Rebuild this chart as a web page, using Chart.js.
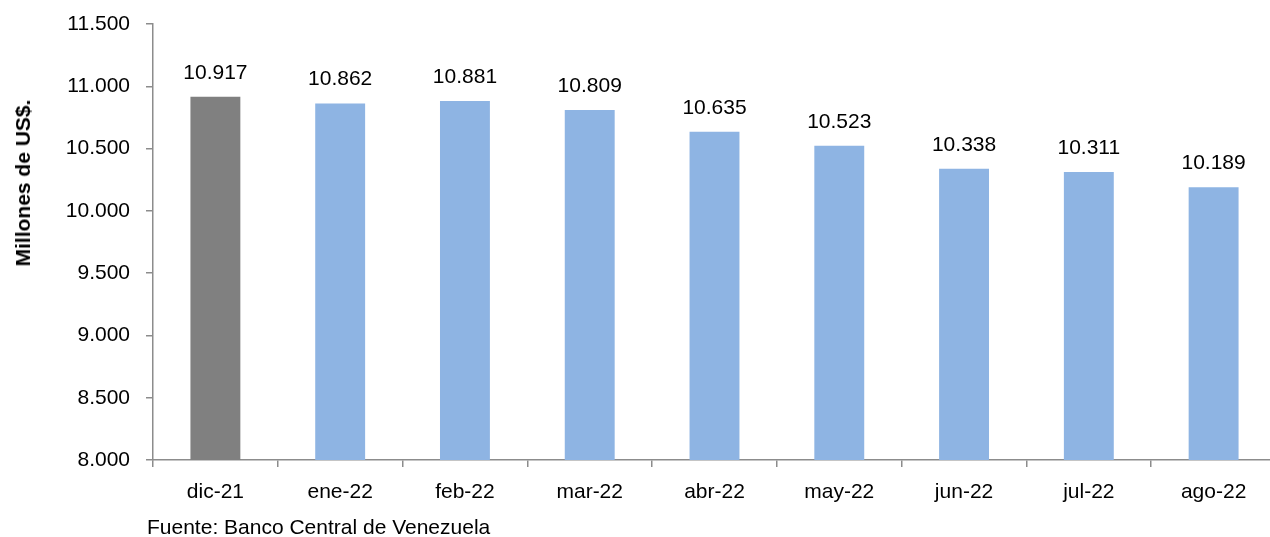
<!DOCTYPE html>
<html>
<head>
<meta charset="utf-8">
<script src="https://cdn.jsdelivr.net/npm/chart.js@4.4.1/dist/chart.umd.min.js"></script>
<style>
  html, body { margin: 0; padding: 0; background: #fff; overflow: hidden; }
  #wrap { position: relative; width: 1270px; height: 537px; overflow: hidden; }
  #grafico { position: absolute; left: 0; top: 0; }
  .ylab {
    position: absolute; left: 23px; top: 183px;
    transform: translate(-50%, -50%) rotate(-90deg);
    font: bold 21px 'Liberation Sans', Arial, sans-serif;
    white-space: nowrap; color: #000;
  }
  .fuente {
    position: absolute; left: 147px; top: 516px;
    font: 21px 'Liberation Sans', Arial, sans-serif;
    line-height: 21px; white-space: nowrap; color: #000;
  }
</style>
</head>
<body>
<div id="wrap">
  <canvas id="grafico" width="1290" height="537"></canvas>
  <div class="ylab">Millones de US$.</div>
  <div class="fuente">Fuente: Banco Central de Venezuela</div>
</div>
<script>
const meses = ['dic-21', 'ene-22', 'feb-22', 'mar-22', 'abr-22', 'may-22', 'jun-22', 'jul-22', 'ago-22']
const reservas = [10917, 10862, 10881, 10809, 10635, 10523, 10338, 10311, 10189]
const colores = ['#808080', '#8EB4E3', '#8EB4E3', '#8EB4E3', '#8EB4E3', '#8EB4E3', '#8EB4E3', '#8EB4E3', '#8EB4E3']
const ejeMin = 8000
const ejeMax = 11500
const ejePaso = 500

const fuente = "'Liberation Sans', Arial, sans-serif"
const gris = '#8c8c8c'

// 10917 -> "10.917"
const formato = (n) => n.toString().replace(/\B(?=(\d{3})+(?!\d))/g, '.')

const etiquetasValor = {
    id: 'etiquetasValor',
    afterDatasetsDraw(chart) {
        const ctx = chart.ctx
        const meta = chart.getDatasetMeta(0)
        ctx.save()
        ctx.font = `21px ${fuente}`
        ctx.fillStyle = '#000'
        ctx.textAlign = 'center'
        ctx.textBaseline = 'alphabetic'
        meta.data.forEach((barra, i) => {
            ctx.fillText(formato(reservas[i]), barra.x, barra.y - 18)
        })
        ctx.restore()
    }
}

const ctx = document.getElementById('grafico').getContext('2d')
const chart = new Chart(ctx, {
    type: 'bar',
    data: {
        labels: meses,
        datasets: [
            {
                data: reservas,
                backgroundColor: colores,
                borderWidth: 0,
                categoryPercentage: 1,
                barPercentage: 0.4
            }
        ]
    },
    options: {
        responsive: false,
        animation: false,
        devicePixelRatio: 1,
        layout: { padding: { top: 24, right: 14, left: 0, bottom: 0 } },
        plugins: {
            legend: { display: false },
            tooltip: { enabled: false }
        },
        scales: {
            x: {
                afterFit: (scale) => { scale.height = 77 },
                grid: { drawOnChartArea: false, tickLength: 7, color: gris, lineWidth: 1.5 },
                border: { color: gris, width: 1.5 },
                ticks: { color: '#000', font: { family: fuente, size: 21 }, padding: 13, maxRotation: 0, autoSkip: false }
            },
            y: {
                min: ejeMin,
                max: ejeMax,
                afterFit: (scale) => {
                    scale.width = 153
                    scale.paddingTop = 0
                    scale.paddingBottom = 0
                },
                grid: { drawOnChartArea: false, tickLength: 7, color: gris, lineWidth: 1.5 },
                border: { color: gris, width: 1.5 },
                ticks: {
                    stepSize: ejePaso,
                    color: '#000',
                    padding: 16,
                    font: { family: fuente, size: 21 },
                    callback: (v) => formato(v)
                }
            }
        }
    },
    plugins: [etiquetasValor]
}) // closes new Chart()
</script>
</body>
</html>
